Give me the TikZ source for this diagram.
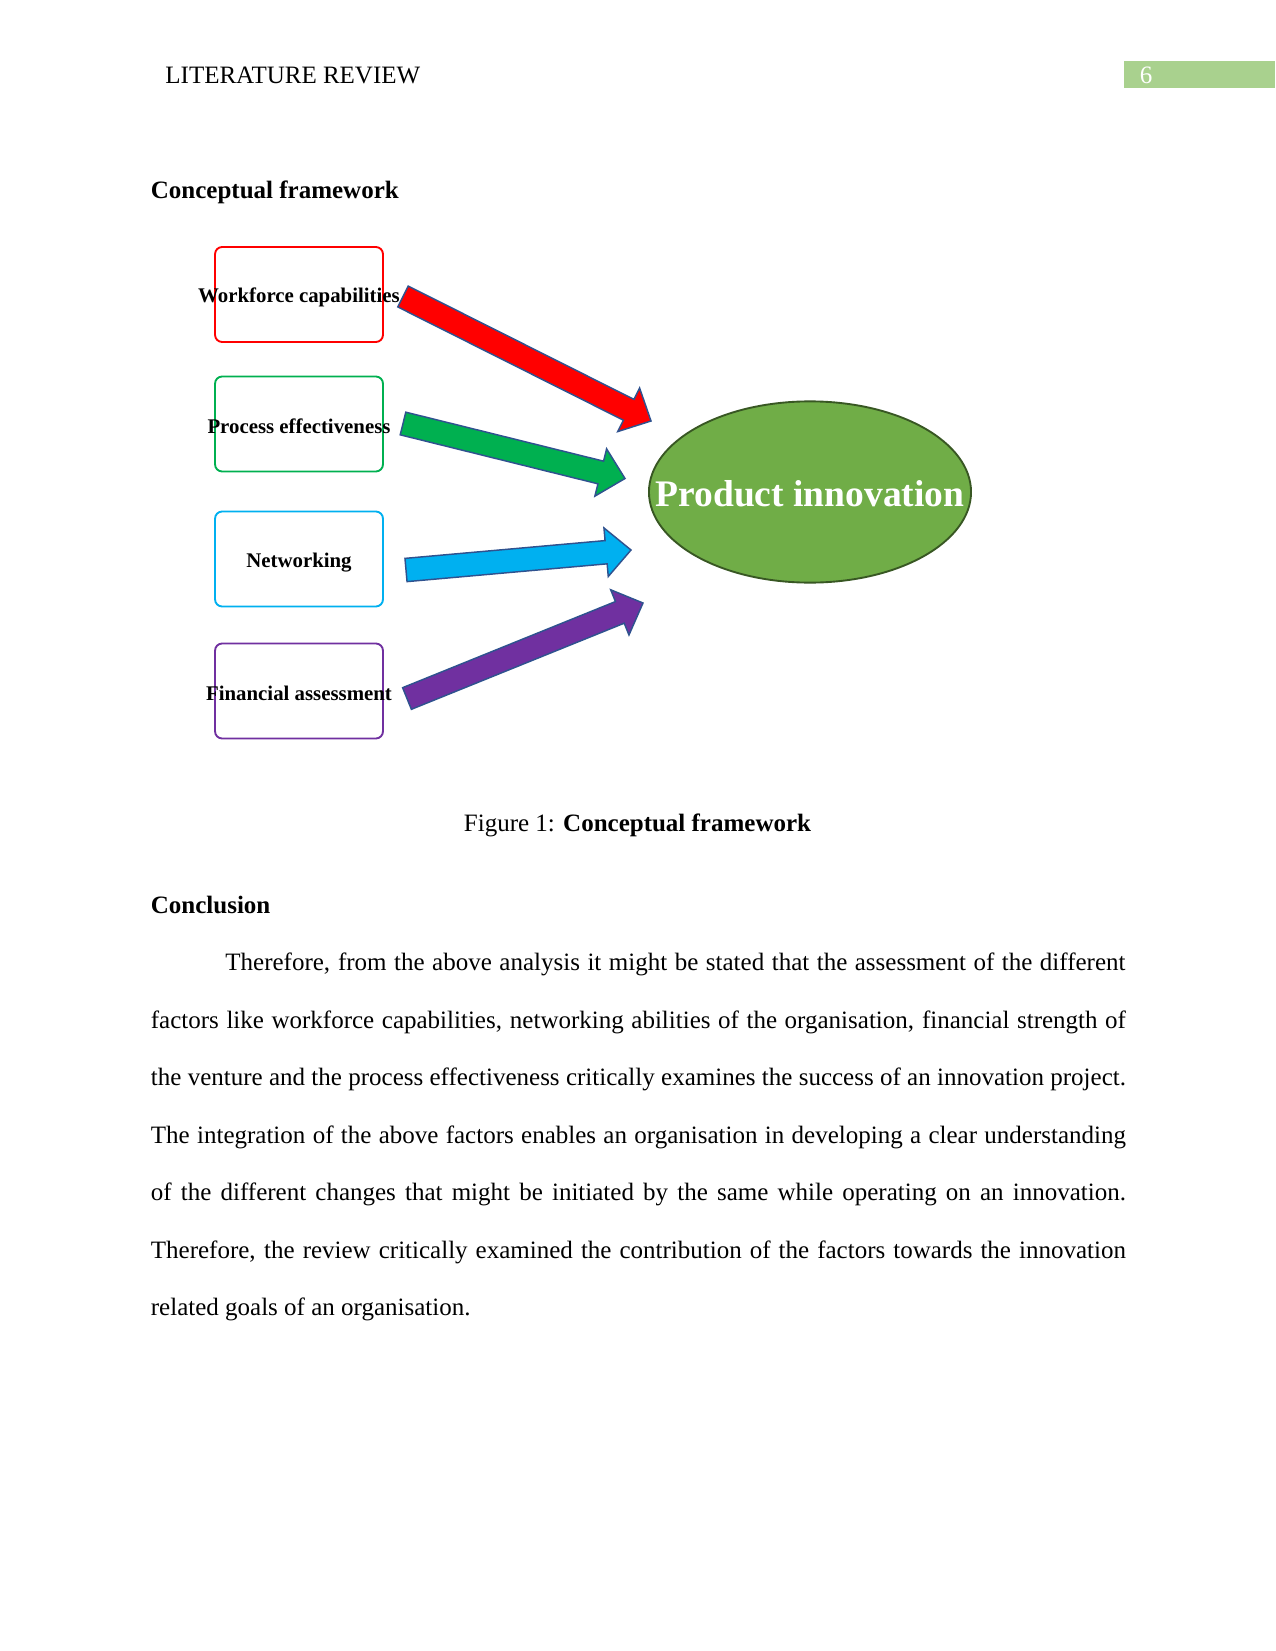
\documentclass[tikz,border=0pt]{standalone}
\usepackage{fontspec}
\setmainfont{Liberation Serif}
\usetikzlibrary{shapes.geometric,calc}
\definecolor{cRed}{HTML}{FF0000}
\definecolor{cGreen}{HTML}{00B050}
\definecolor{cBlue}{HTML}{00B0F0}
\definecolor{cPurple}{HTML}{7030A0}
\definecolor{cOut}{HTML}{2F528F}
\definecolor{cEll}{HTML}{70AD47}
\definecolor{cEllOut}{HTML}{385723}
\definecolor{cHead}{HTML}{A9D18E}
\newcommand{\fatarrow}[3]{%
  \coordinate (#1-b) at ($(#2)!12pt!(#1)$);
  \draw[fatarr, fill=#3] ($(#1)!5.6pt!90:(#2)$) -- ($(#1-b)!5.6pt!90:(#2)$)
    -- ($(#1-b)!11.7pt!90:(#2)$) -- (#2) -- ($(#1-b)!11.7pt!-90:(#2)$)
    -- ($(#1-b)!5.6pt!-90:(#2)$) -- ($(#1)!5.6pt!-90:(#2)$) -- cycle;}
\newcommand{\jline}[1]{\hbox to 468pt{#1}}
\begin{document}
\begin{tikzpicture}[x=0.48pt,y=-0.48pt,
  txt/.style={inner sep=0pt, font=\fontsize{12}{14}\selectfont},
  fbox/.style={rectangle, rounded corners=3.4pt, line width=0.9pt, minimum width=80.6pt, minimum height=45.6pt, inner sep=0pt, fill=white},
  flabel/.style={inner sep=0pt, font=\fontsize{10}{12}\selectfont\bfseries},
  fatarr/.style={draw=cOut, line width=0.7pt, line join=miter}]
\useasboundingbox (0,0) rectangle (1275,1651);
\fill[white] (0,0) rectangle (1275,1651);
% header
\node[txt, anchor=base west] (hdr) at (165,84) {LITERATURE REVIEW};
\fill[cHead] (1124,61) rectangle (1275,88);
\node[txt, anchor=base, text=white] (pg) at (1146,84) {6};
% heading
\node[txt, anchor=base west, font=\fontsize{12}{14}\selectfont\bfseries] (h1) at (150.5,199) {Conceptual framework};
% boxes
\node[fbox, draw=cRed] (wf) at (299,294.5) {};
\node[flabel, yshift=-1.6pt] at (wf.center) {Workforce capabilities};
\node[fbox, draw=cGreen] (pe) at (299,424) {};
\node[flabel, yshift=-1.2pt] at (pe.center) {Process effectiveness};
\node[fbox, draw=cBlue] (nw) at (299,559) {};
\node[flabel, yshift=-1.6pt] at (nw.center) {Networking};
\node[fbox, draw=cPurple] (fa) at (299,691) {};
\node[flabel, yshift=-1.2pt] at (fa.center) {Financial assessment};
% ellipse
\node[ellipse, fill=cEll, draw=cEllOut, line width=0.9pt, minimum width=154.6pt, minimum height=87pt, inner sep=0pt] (pi) at (810,492) {};
\node[inner sep=0pt, text=white, font=\fontsize{18}{20}\selectfont\bfseries, yshift=-0.6pt] at (pi.center) {Product innovation};
% arrows
\coordinate (rT) at (403,296.5); \coordinate (rP) at (651,421);
\coordinate (gT) at (403,423.5); \coordinate (gP) at (625,478.5);
\coordinate (bT) at (406,570);   \coordinate (bP) at (631,550);
\coordinate (vT) at (407,698.5); \coordinate (vP) at (643,603);
\fatarrow{rT}{rP}{cRed}
\fatarrow{gT}{gP}{cGreen}
\fatarrow{bT}{bP}{cBlue}
\fatarrow{vT}{vP}{cPurple}
% caption
\node[txt, anchor=base] (cap) at (637.5,831) {Figure 1: \textbf{Conceptual framework}};
% conclusion
\node[txt, anchor=base west, font=\fontsize{12}{14}\selectfont\bfseries] (h2) at (150.5,913) {Conclusion};
\node[txt, anchor=base west] (l1) at (225,970.5) {\hbox to 432pt{Therefore, from the above analysis it might be stated that the assessment of the different}};
\node[txt, anchor=base west] (l2) at (150.5,1028) {\jline{factors like workforce capabilities, networking abilities of the organisation, financial strength of}};
\node[txt, anchor=base west] (l3) at (150.5,1085.5) {\jline{the venture and the process effectiveness critically examines the success of an innovation project.}};
\node[txt, anchor=base west] (l4) at (150.5,1143) {\jline{The integration of the above factors enables an organisation in developing a clear understanding}};
\node[txt, anchor=base west] (l5) at (150.5,1200.5) {\jline{of the different changes that might be initiated by the same while operating on an innovation.}};
\node[txt, anchor=base west] (l6) at (150.5,1258) {\jline{Therefore, the review critically examined the contribution of the factors towards the innovation}};
\node[txt, anchor=base west] (l7) at (150.5,1315.5) {related goals of an organisation.};
\end{tikzpicture}
\end{document}
